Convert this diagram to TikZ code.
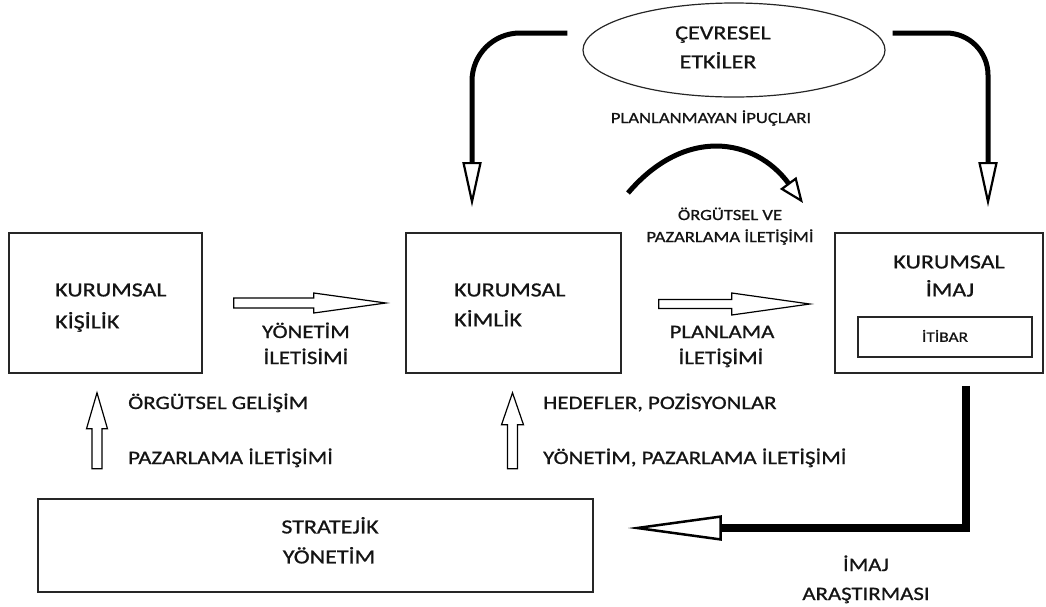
\documentclass[tikz,border=0pt]{standalone}
\usepackage{fontspec}
\newfontfamily\lbl{Carlito}[FakeStretch=1.2, FakeBold=0.9]
\usetikzlibrary{arrows.meta,shapes.geometric,calc}
\begin{document}
\begin{tikzpicture}[x=1pt,y=1pt,
  box/.style={draw=black!85, line width=1.6pt, inner sep=0pt, fill=none},
  big/.style={font=\lbl\fontsize{20}{24}\selectfont, inner sep=0pt, text=black!92},
  mid/.style={font=\lbl\fontsize{19}{23}\selectfont, inner sep=0pt, text=black!92},
  sml/.style={font=\lbl\fontsize{15.5}{19}\selectfont, inner sep=0pt, text=black!92},
  tiny/.style={font=\lbl\fontsize{14.5}{17}\selectfont, inner sep=0pt, text=black!92},
  heavy/.style={line width=5pt, line join=round,
    -{Triangle[open, length=45pt, width=19pt, line width=2.2pt]}},
  blk/.style={draw=black, line width=1.2pt, fill=white, line join=miter},
  pics/hollow/.style n args={4}{code={
    \draw[blk] (0,-#2) -- (#1-#4,-#2) -- (#1-#4,-#3) -- (#1,0)
      -- (#1-#4,#3) -- (#1-#4,#2) -- (0,#2) -- cycle;}}
]
\useasboundingbox (0,0) rectangle (1046,-606);

% boxes
\node[box, minimum width=193pt, minimum height=140pt] (kisilik) at (105.5,-303) {};
\node[box, minimum width=215pt, minimum height=140pt] (kimlik) at (513.5,-303) {};
\node[box, minimum width=208pt, minimum height=140pt] (imaj) at (939,-303) {};
\node[box, line width=1.4pt, minimum width=174pt, minimum height=40pt] (itibar) at (945,-337) {};
\node[box, minimum width=555pt, minimum height=93pt] (strat) at (315.5,-545.5) {};
\node[ellipse, draw=black!85, line width=1.2pt, inner sep=0pt,
      minimum width=302pt, minimum height=94pt] (env) at (734,-50) {};

% box texts
\node[big, anchor=base west] (k1a) at (55,-296.4) {KURUMSAL};
\node[big, anchor=base west] (k1b) at (55,-328.4) {KİŞİLİK};
\node[big, anchor=base west] (k2a) at (454,-296.4) {KURUMSAL};
\node[big, anchor=base west] (k2b) at (454,-326.4) {KİMLİK};
\node[big, anchor=base] (k3a) at (949,-268.4) {KURUMSAL};
\node[big, anchor=base] (k3b) at (950,-296.4) {İMAJ};
\node[tiny, anchor=base] (it) at (945,-341.8) {İTİBAR};
\node[big, anchor=base] (s1) at (330,-533.4) {STRATEJİK};
\node[big, anchor=base] (s2) at (329,-563.4) {YÖNETİM};
\node[big, anchor=base] (e1) at (723,-39.4) {ÇEVRESEL};
\node[big, anchor=base] (e2) at (718,-68.4) {ETKİLER};

% connector labels
\node[sml, anchor=base] (pl) at (711,-123) {PLANLANMAYAN İPUÇLARI};
\node[sml, anchor=base] (op1) at (730,-220) {ÖRGÜTSEL VE};
\node[sml, anchor=base] (op2) at (730,-242) {PAZARLAMA İLETİŞİMİ};
\node[mid, anchor=base] (y1) at (306,-338) {YÖNETİM};
\node[mid, anchor=base] (y2) at (306,-364) {İLETİSİMİ};
\node[mid, anchor=base] (p1) at (722,-338) {PLANLAMA};
\node[mid, anchor=base] (p2) at (721,-364) {İLETİŞİMİ};
\node[mid, anchor=base west] (g1) at (128,-409) {ÖRGÜTSEL GELİŞİM};
\node[mid, anchor=base west] (g2) at (128,-464) {PAZARLAMA İLETİŞİMİ};
\node[mid, anchor=base west] (h1) at (543,-409) {HEDEFLER, POZİSYONLAR};
\node[mid, anchor=base west] (h2) at (543,-464) {YÖNETİM, PAZARLAMA İLETİŞİMİ};
\node[mid, anchor=base] (r1) at (866,-571) {İMAJ};
\node[mid, anchor=base] (r2) at (866,-600) {ARAŞTIRMASI};

% hollow block arrows
\coordinate (ya) at ($(kisilik.east)+(31,0)$);
\coordinate (pa) at ($(kimlik.east)+(37,-1)$);
\coordinate (ua) at ($(kisilik.south)+(-8.5,-95)$);
\coordinate (ub) at ($(kimlik.south)+(-1,-95)$);
\pic at (ya) {hollow={152}{5}{10}{72}};
\pic at (pa) {hollow={151}{4.5}{11}{78}};
\pic[rotate=90] at (ua) {hollow={76}{5}{10.5}{36}};
\pic[rotate=90] at (ub) {hollow={76}{5}{11}{32}};

% environmental influences
\coordinate (la) at ($(env.west)+(-15,17)$);
\coordinate (lb) at (472,-207);
\coordinate (ra) at ($(env.east)+(7,17)$);
\coordinate (rb) at (988,-207);
\draw[heavy, rounded corners=48pt] (la) -- (lb |- la) -- (lb);
\draw[heavy, rounded corners=42pt] (ra) -- (rb |- ra) -- (rb);

% unplanned cues curve
\coordinate (cs) at (628,-193);
\coordinate (ce) at (803,-203);
\draw[line width=5pt, -{Triangle[open, length=25pt, width=20pt, line width=2.2pt]}]
  (cs) .. controls (685,-126) and (755,-138) .. (ce);

% image research feedback
\coordinate (fa) at ($(imaj.south)+(27,-12)$);
\coordinate (fb) at ($(strat.east)+(34,17.5)$);
\draw[line width=8pt, line join=miter,
  -{Triangle[open, length=94pt, width=25pt, line width=2.5pt]}]
  (fa) -- (fa |- fb) -- (fb);
\end{tikzpicture}
\end{document}
